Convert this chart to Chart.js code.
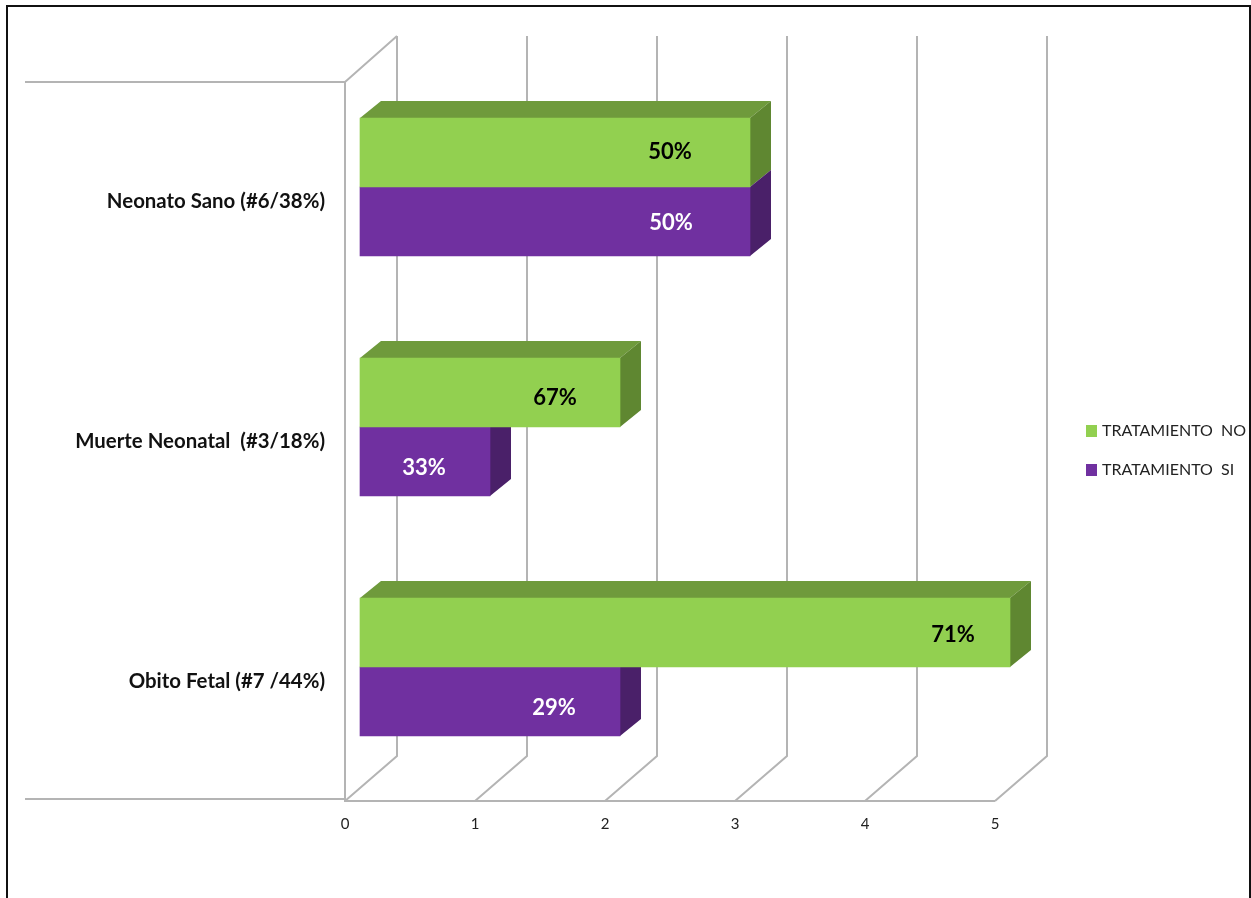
<!DOCTYPE html>
<html lang="es">
<head>
<meta charset="utf-8">
<title>Tratamiento por resultado neonatal</title>
<style>
  html, body { margin: 0; height: 100%; background: #fff; overflow: hidden; }
  #marco { position: absolute; left: 6px; top: 5px; right: 0; bottom: -4px; border: 2px solid #111; box-sizing: border-box; }
  #grafico { position: absolute; left: 0; top: 0; }
</style>
</head>
<body>
<div id="marco"></div>
<canvas id="grafico" width="1251" height="898"></canvas>
<script src="https://cdn.jsdelivr.net/npm/chart.js@4"></script>
<script>
const categorias = ['Neonato Sano (#6/38%)', 'Muerte Neonatal  (#3/18%)', 'Obito Fetal (#7 /44%)'];
const tratamientoNo = [3, 2, 5];
const tratamientoSi = [3, 1, 2];
const etiquetasNo = ['50%', '67%', '71%'];
const etiquetasSi = ['50%', '33%', '29%'];
const ticksX = [0, 1, 2, 3, 4, 5];

// Distancia de cada etiqueta al extremo de su barra, colocadas a mano
const margenNo = [80, 65, 57];
const margenSi = [79, 66, 66];
const ajusteYNo = [-1, 5, 2];
const ajusteYSi = [1, 6, 6];

const VERDE = '#92d050';
const MORADO = '#7030a0';
const LINEA = '#b4b4b4';

// Profundidad de la caja y de las barras
const cajaX = 52, cajaY = 45;
const barraX = 21, barraY = 17;
const desX = 15, desY = -14;

function poligono(ctx, puntos, color) {
    ctx.fillStyle = color;
    ctx.beginPath();
    puntos.forEach((p, i) => i ? ctx.lineTo(p[0], p[1]) : ctx.moveTo(p[0], p[1]));
    ctx.closePath();
    ctx.fill();
}

// Paredes y suelo de la caja 3D
const caja3d = {
    id: 'caja3d',
    beforeDatasetsDraw(chart) {
        const { ctx, chartArea: a, scales } = chart;
        const arriba = a.top, abajo = a.bottom;
        ctx.save();
        ctx.strokeStyle = LINEA;
        ctx.lineWidth = 2;
        ctx.beginPath();
        ctx.moveTo(25, arriba + 1);
        ctx.lineTo(a.left, arriba + 1);
        ctx.lineTo(a.left + cajaX, arriba - cajaY);
        ctx.moveTo(25, abajo - 2);
        ctx.lineTo(a.left, abajo - 2);
        ctx.moveTo(a.left, arriba + 1);
        ctx.lineTo(a.left, abajo);
        ctx.lineTo(a.right, abajo);
        ticksX.forEach(t => {
            const x = scales.x.getPixelForValue(t);
            ctx.moveTo(x, abajo);
            ctx.lineTo(x + cajaX, abajo - cajaY);
            ctx.lineTo(x + cajaX, arriba - cajaY);
        });
        ctx.stroke();
        ctx.restore();

        // Las barras van desplazadas dentro de la caja; se restaura al terminar
        ctx.save();
        ctx.translate(desX, desY);
        chart.data.datasets.forEach((ds, i) => {
            chart.getDatasetMeta(i).data.forEach(b => {
                const sup = b.y - b.height / 2, inf = b.y + b.height / 2;
                if (i === 0) {
                    poligono(ctx, [[b.base, sup], [b.base + barraX, sup - barraY], [b.x + barraX, sup - barraY], [b.x, sup]], ds.colorTapa);
                }
                poligono(ctx, [[b.x, sup], [b.x + barraX, sup - barraY], [b.x + barraX, inf - barraY], [b.x, inf]], ds.colorLado);
            });
        });
    },
    afterDatasetsDraw(chart) {
        chart.ctx.restore();
    },
    afterDraw(chart) {
        const { ctx } = chart;
        ctx.save();
        // Porcentajes sobre las barras
        ctx.font = 'bold 22px Lato';
        ctx.textAlign = 'center';
        ctx.textBaseline = 'middle';
        chart.data.datasets.forEach((ds, i) => {
            chart.getDatasetMeta(i).data.forEach((b, j) => {
                ctx.fillStyle = ds.colorTexto;
                ctx.fillText(ds.etiquetas[j], b.x + desX - ds.margenes[j], b.y + desY + ds.ajustes[j]);
            });
        });
        // Leyenda a la derecha
        ctx.font = '16px Lato';
        ctx.textAlign = 'left';
        chart.data.datasets.forEach((ds, i) => {
            const y = 431 + i * 39;
            ctx.fillStyle = ds.backgroundColor;
            ctx.fillRect(1086, y - 6, 11, 12);
            ctx.fillStyle = '#222';
            ctx.fillText(ds.label, 1102, y);
        });
        ctx.restore();
    }
};

new Chart(document.getElementById('grafico'), {
    type: 'bar',
    data: {
        labels: categorias,
        datasets: [
            { label: 'TRATAMIENTO  NO', data: tratamientoNo, backgroundColor: VERDE, colorTapa: '#6f9a3c', colorLado: '#5f8731', colorTexto: '#000', etiquetas: etiquetasNo, margenes: margenNo, ajustes: ajusteYNo },
            { label: 'TRATAMIENTO  SI', data: tratamientoSi, backgroundColor: MORADO, colorTapa: '#4a2069', colorLado: '#4a2069', colorTexto: '#fff', etiquetas: etiquetasSi, margenes: margenSi, ajustes: ajusteYSi }
        ]
    },
    options: {
        indexAxis: 'y',
        responsive: false,
        animation: false,
        clip: false,
        barThickness: 69,
        layout: { padding: { top: 81, right: 256, bottom: 60, left: 0 } },
        plugins: { legend: { display: false }, tooltip: { enabled: false } },
        scales: {
            x: {
                min: 0,
                max: 5,
                afterFit: s => { s.height = 37; },
                afterBuildTicks: s => { s.ticks = ticksX.map(value => ({ value })); },
                grid: { display: false, drawTicks: false },
                border: { display: false },
                ticks: { color: '#222', padding: 14, font: { family: 'Lato', size: 15 }, maxRotation: 0 }
            },
            y: {
                afterFit: s => { s.width = 345; },
                grid: { display: false, drawTicks: false },
                border: { display: false },
                ticks: { color: '#111', padding: 20, font: { family: 'Lato', size: 20.4, weight: 'bold' }, autoSkip: false }
            }
        }
    },
    plugins: [caja3d]
});
</script>
</body>
</html>
